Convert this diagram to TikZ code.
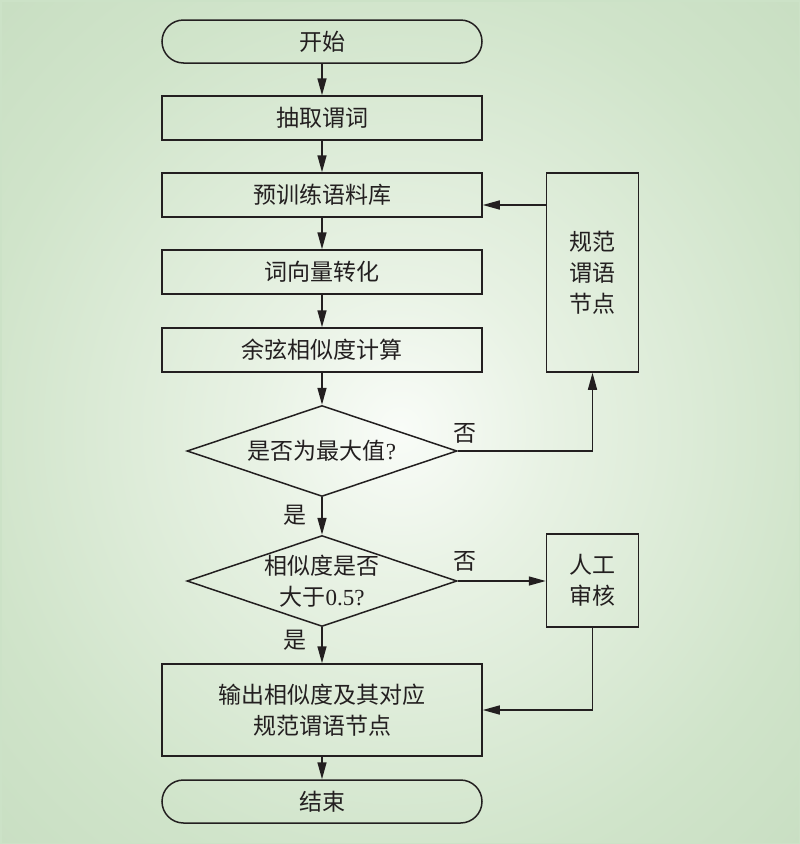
\documentclass[tikz,border=0pt]{standalone}
\usepackage{fontspec}
\setmainfont{Liberation Serif}
\newfontfamily\cjk{Noto Sans CJK SC}
\usetikzlibrary{shapes.geometric,arrows.meta}
\definecolor{bgA}{HTML}{F9FCF8}
\definecolor{bgB}{HTML}{E8F2E4}
\definecolor{bgC}{HTML}{D0E4CA}
\definecolor{bgD}{HTML}{C1D9BB}
\definecolor{bgE}{HTML}{BED7B8}
\definecolor{edge}{HTML}{CCE2C7}
\definecolor{ln}{HTML}{231F20}
\pgfdeclareradialshading{bgshade}{\pgfpoint{0bp}{0bp}}{color(0bp)=(bgA); color(9bp)=(bgB); color(26bp)=(bgC); color(44bp)=(bgD); color(76bp)=(bgE)}
\newcommand\fz{\fontsize{23pt}{31pt}\selectfont}
\tikzset{
  box/.style={draw=ln, line width=1.5pt, rectangle, minimum width=320pt, minimum height=44pt,
    inner sep=0pt, font=\fz\cjk, text=ln, align=center},
  term/.style={box, rounded corners=21.5pt, minimum height=43pt},
  sidebox/.style={box, minimum width=92pt},
  dia/.style={draw=ln, line width=1.5pt, diamond, aspect=2.97, minimum width=270pt,
    minimum height=91pt, inner sep=0pt, align=center, font=\fz\cjk, text=ln},
  arr/.style={draw=ln, line width=1.5pt, -{Triangle[length=17pt,width=9pt]}},
  ln/.style={draw=ln, line width=1.5pt},
  lab/.style={font=\fz\cjk, text=ln, inner sep=0pt}
}
\begin{document}
\begin{tikzpicture}[x=1pt,y=-1pt]
\useasboundingbox (0,0) rectangle (800,844);
\begin{scope}
  \clip (0,0) rectangle (800,844);
  \shade[shading=bgshade] (-10,0) rectangle (810,860);
  \draw[edge, line width=3pt] (0,0) rectangle (800,844);
\end{scope}

\node[term] (start) at (322,41.5) {开始};
\node[box] (n1) at (322,118) {抽取谓词};
\node[box] (n2) at (322,195) {预训练语料库};
\node[box] (n3) at (322,272) {词向量转化};
\node[box] (n4) at (322,350) {余弦相似度计算};
\node[dia] (d1) at (322,451) {是否为最大值{\rmfamily ?}};
\node[dia] (d2) at (322,581) {相似度是否\\大于{\rmfamily 0.5?}};
\node[box, minimum height=92pt] (out) at (322,710) {输出相似度及其对应\\规范谓语节点};
\node[term] (end) at (322,801.5) {结束};
\node[sidebox, minimum height=199pt] (norm) at (592.5,272.5) {规范\\谓语\\节点};
\node[sidebox, minimum height=93pt] (rev) at (592.5,580.5) {人工\\审核};

\coordinate (a1) at (546,205);

\draw[arr] (start) -- (n1);
\draw[arr] (n1) -- (n2);
\draw[arr] (n2) -- (n3);
\draw[arr] (n3) -- (n4);
\draw[arr] (n4) -- (d1);
\draw[arr] (d1) -- (d2);
\draw[arr] (d2) -- (out);
\draw[arr] (out) -- (end);
\draw[arr] (d1.east) -| (norm.south);
\draw[arr] (norm.west |- a1) -- (n2.east |- a1);
\draw[arr] (d2.east) -- (rev.west |- d2.east);
\draw[arr] (rev.south) |- (out.east);

\node[lab] (no1) at (465,433) {否};
\node[lab] (no2) at (465,561) {否};
\node[lab] (yes1) at (295,515) {是};
\node[lab] (yes2) at (295,640) {是};
\end{tikzpicture}
\end{document}
